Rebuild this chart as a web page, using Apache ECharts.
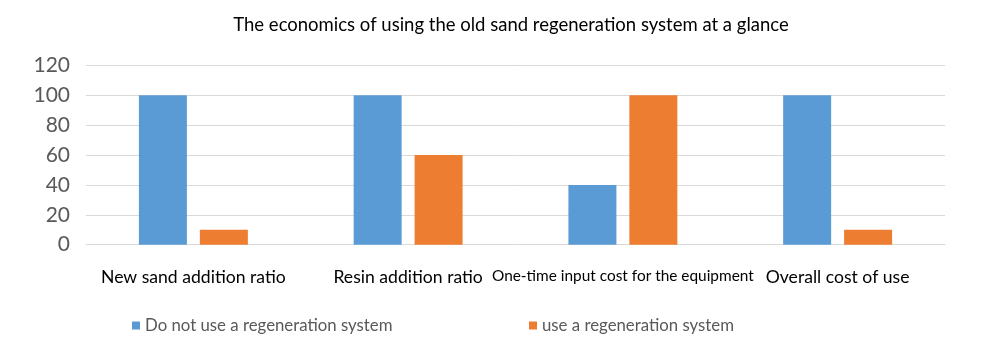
<!DOCTYPE html>
<html><head><meta charset="utf-8">
<script src="https://cdn.jsdelivr.net/npm/echarts@6/dist/echarts.min.js"></script>
<style>html,body{margin:0;padding:0;background:#fff}#c{width:981px;height:359px}</style>
</head><body><div id="c"></div>
<script>
const categories = ['New sand addition ratio','Resin addition ratio','One-time input cost for the equipment','Overall cost of use'];
const seriesNames = ['Do not use a regeneration system','use a regeneration system'];
const noRegen = [100, 100, 40, 100];
const withRegen = [10, 60, 100, 10];
const yTicks = {min:0, max:120, interval:20};
const FONT = 'Lato, "Open Sans", sans-serif';
const chart = echarts.init(document.getElementById('c'));
chart.setOption({
  animation:false,
  title:{text:'The economics of using the old sand regeneration system at a glance', left:506, textAlign:'center', top:11,
    textStyle:{fontFamily:FONT, fontSize:18.5, fontWeight:'normal', color:'#000'}},
  legend:[
    {data:[seriesNames[0]], left:127, top:312, itemWidth:8, itemHeight:8, icon:'rect',
      textStyle:{fontFamily:FONT, fontSize:16.8, color:'#595959'}},
    {data:[seriesNames[1]], left:524, top:312, itemWidth:8, itemHeight:8, icon:'rect',
      textStyle:{fontFamily:FONT, fontSize:16.8, color:'#595959'}}
  ],
  grid:{left:86, right:36, top:65.5, bottom:114.3, containLabel:false},
  xAxis:{type:'category',
    data:categories.map((c,i)=> i===2 ? {value:c, textStyle:{fontSize:15.4}} : c),
    axisLine:{show:true, lineStyle:{color:'#d9d9d9'}}, axisTick:{show:false},
    axisLabel:{fontFamily:FONT, fontSize:17.6, color:'#000', margin:24, interval:0}},
  yAxis:{type:'value', min:yTicks.min, max:yTicks.max, interval:yTicks.interval,
    axisLine:{show:false}, axisTick:{show:false},
    splitLine:{lineStyle:{color:'#d9d9d9'}},
    axisLabel:{fontFamily:FONT, fontSize:21, color:'#595959', margin:16}},
  series:[
    {name:seriesNames[0], type:'bar', data:noRegen, barWidth:48, barGap:'27%', itemStyle:{color:'#5b9bd5'}},
    {name:seriesNames[1], type:'bar', data:withRegen, barWidth:48, itemStyle:{color:'#ed7d31'}}
  ]
});
</script></body></html>
